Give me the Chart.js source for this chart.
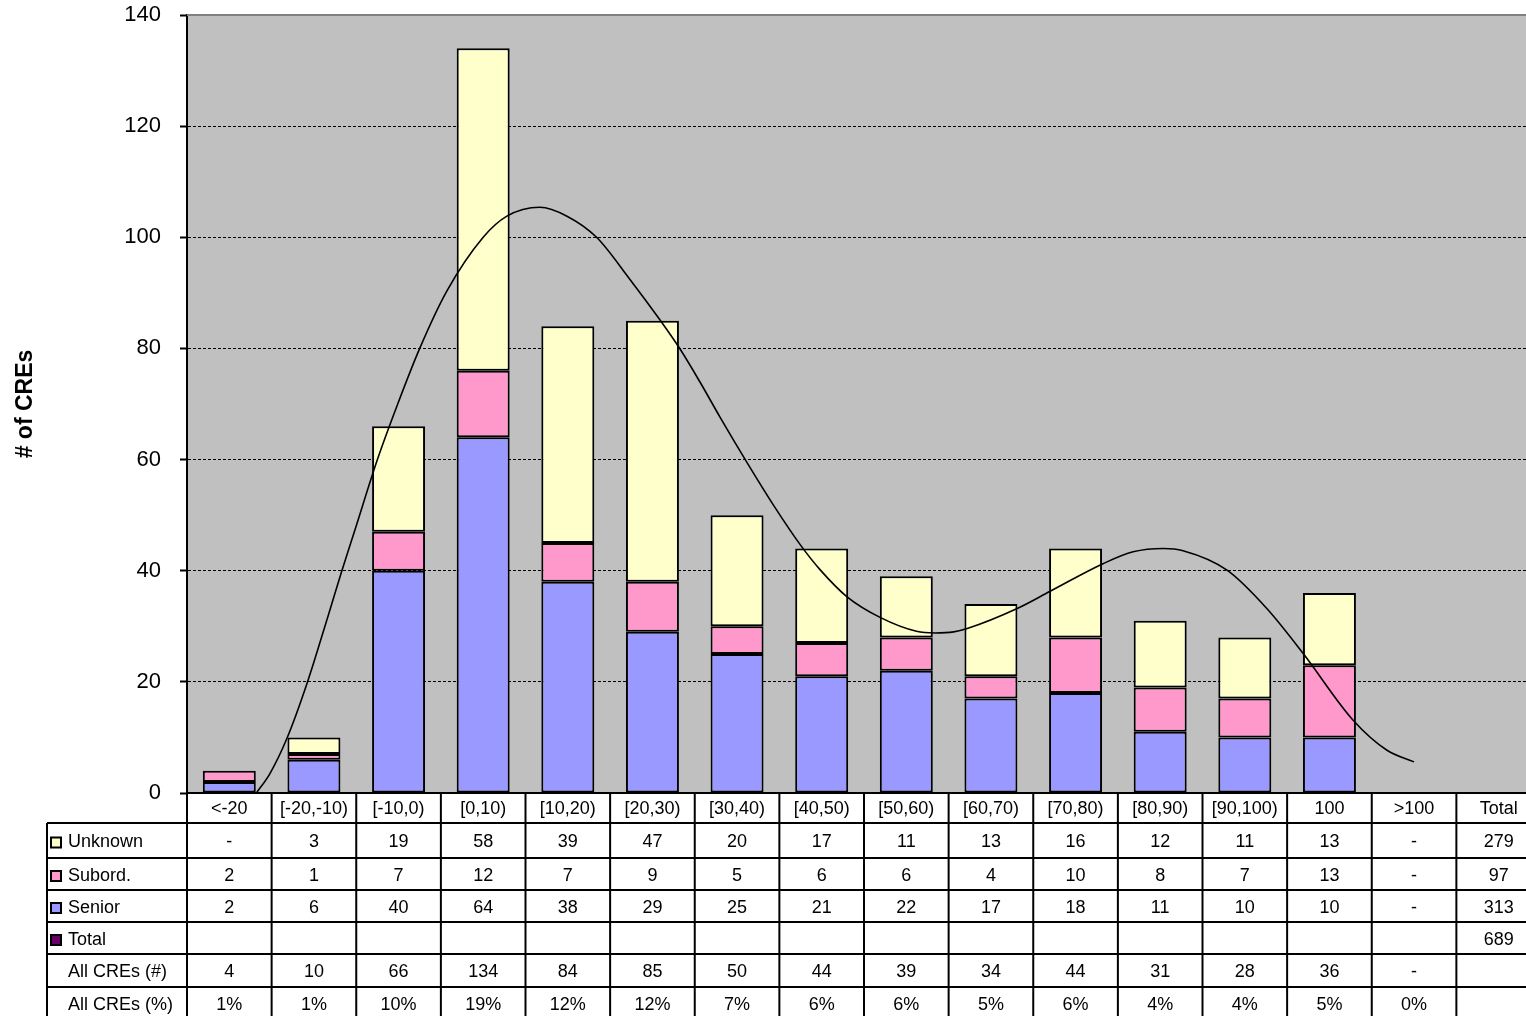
<!DOCTYPE html>
<html>
<head>
<meta charset="utf-8">
<script src="https://cdn.jsdelivr.net/npm/chart.js@4.4.1/dist/chart.umd.min.js"></script>
<style>
  html, body { margin: 0; padding: 0; background: #fff; overflow: hidden; }
  #creChart { position: absolute; left: 0; top: 0; }
</style>
</head>
<body>
<canvas id="creChart" width="1545" height="1030"></canvas>
<script>
// categories (last one is the "Total" column of the data table)
const categories = ['<-20', '[-20,-10)', '[-10,0)', '[0,10)', '[10,20)', '[20,30)', '[30,40)',
  '[40,50)', '[50,60)', '[60,70)', '[70,80)', '[80,90)', '[90,100)', '100', '>100', 'Total'];

// stacked series (null = "-" / empty)
const senior  = [2, 6, 40, 64, 38, 29, 25, 21, 22, 17, 18, 11, 10, 10, null, null];
const subord  = [2, 1, 7, 12, 7, 9, 5, 6, 6, 4, 10, 8, 7, 13, null, null];
const unknown = [null, 3, 19, 58, 39, 47, 20, 17, 11, 13, 16, 12, 11, 13, null, null];

// totals column of the table: Unknown, Subord., Senior, Total
const totalsCol = [279, 97, 313, 689];

// bottom rows of the table
const allCount = [4, 10, 66, 134, 84, 85, 50, 44, 39, 34, 44, 31, 28, 36, null];
const allPct = ['1%', '1%', '10%', '19%', '12%', '12%', '7%', '6%', '6%', '5%', '6%', '4%', '4%', '5%', '0%'];

// trend curve (x in category units, 0 = '<-20')
const trendX = [0.32, 0.48, 0.68, 0.92, 1.17, 1.33, 1.49, 1.75, 1.99, 2.25, 2.57, 3.0, 3.28, 3.67,
  3.99, 4.34, 4.73, 5.09, 5.33, 5.56, 5.8, 6.12, 6.43, 6.75, 6.98, 7.3, 7.69, 8.12, 8.34, 8.56,
  8.72, 9.31, 9.7, 10.33, 10.68, 11.04, 11.27, 11.79, 12.26, 12.69, 13.28, 13.68, 14.0];
const trendY = [0, 3.5, 9.8, 19.8, 32, 40, 47.6, 60, 70, 80, 90.3, 100, 103.8, 105.4,
  103.8, 100, 92.5, 85.1, 79.8, 74.0, 67.6, 59.4, 51.8, 44.6, 40.2, 35.3, 31.6, 29.1, 28.8, 29.0,
  29.6, 33.2, 36.3, 41.3, 43.4, 44.0, 43.6, 40.1, 33.2, 25.1, 13.1, 7.7, 5.6];

const yMin = 0, yMax = 140, yStep = 20;

const colors = {
  senior: '#9999FF',
  subord: '#FF99CC',
  unknown: '#FFFFCC',
  total: '#660066',
  plot: '#C0C0C0'
};

Chart.defaults.font.family = '"Liberation Sans", Arial, sans-serif';
Chart.defaults.color = '#000';

const tableRows = [
  { label: 'Unknown', color: colors.unknown, values: unknown.slice(0, 15).map(v => v === null ? '-' : String(v)), total: totalsCol[0] },
  { label: 'Subord.', color: colors.subord, values: subord.slice(0, 15).map(v => v === null ? '-' : String(v)), total: totalsCol[1] },
  { label: 'Senior', color: colors.senior, values: senior.slice(0, 15).map(v => v === null ? '-' : String(v)), total: totalsCol[2] },
  { label: 'Total', color: colors.total, values: [], total: totalsCol[3] },
  { label: 'All CREs (#)', color: null, values: allCount.map(v => v === null ? '-' : String(v)), total: '' },
  { label: 'All CREs (%)', color: null, values: allPct, total: '' }
];
const rowHeights = [30, 35, 32, 32, 32, 33, 33]; // header + 6 rows

const tablePlugin = {
  id: 'dataTable',
  beforeDraw(chart) {
    const { ctx, chartArea: a } = chart;
    ctx.save();
    ctx.fillStyle = colors.plot;
    ctx.fillRect(a.left, a.top, a.right - a.left, a.bottom - a.top);
    ctx.restore();
  },
  afterDraw(chart) {
    const { ctx, chartArea: a } = chart;
    const colW = (a.right - a.left) / categories.length;
    const labelLeft = 47;
    ctx.save();

    // top border of the plot
    ctx.strokeStyle = '#808080';
    ctx.lineWidth = 2;
    ctx.beginPath();
    ctx.moveTo(a.left, a.top);
    ctx.lineTo(a.right, a.top);
    ctx.stroke();

    // row boundaries
    const ys = [a.bottom];
    rowHeights.forEach(h => ys.push(ys[ys.length - 1] + h));

    ctx.strokeStyle = '#000';
    ctx.lineWidth = 2;
    ctx.beginPath();
    for (let r = 1; r < ys.length; r++) {
      ctx.moveTo(labelLeft, ys[r]);
      ctx.lineTo(a.right, ys[r]);
    }
    ctx.moveTo(labelLeft, ys[1]);
    ctx.lineTo(labelLeft, ys[ys.length - 1]);
    for (let k = 0; k <= categories.length; k++) {
      const x = a.left + k * colW;
      ctx.moveTo(x, a.bottom);
      ctx.lineTo(x, ys[ys.length - 1]);
    }
    ctx.stroke();

    ctx.font = '18px "Liberation Sans", Arial, sans-serif';
    ctx.fillStyle = '#000';
    ctx.textBaseline = 'middle';
    ctx.textAlign = 'center';

    // header
    categories.forEach((c, i) => {
      ctx.fillText(c, a.left + (i + 0.5) * colW, (ys[0] + ys[1]) / 2 + 1);
    });

    // body
    tableRows.forEach((row, r) => {
      const top = ys[r + 1], bot = ys[r + 2];
      const cy = (top + bot) / 2 + 2;
      ctx.textAlign = 'center';
      row.values.forEach((v, i) => {
        ctx.fillText(v, a.left + (i + 0.5) * colW, cy);
      });
      if (row.total !== '') {
        ctx.fillText(String(row.total), a.left + 15.5 * colW, cy);
      }
      if (row.color) {
        ctx.fillStyle = row.color;
        ctx.fillRect(51, cy - 5, 10, 10);
        ctx.strokeStyle = '#000';
        ctx.lineWidth = 2;
        ctx.strokeRect(51, cy - 5, 10, 10);
        ctx.fillStyle = '#000';
      }
      ctx.textAlign = 'left';
      ctx.fillText(row.label, 68, cy);
    });
    ctx.restore();
  }
};

const barCommon = {
  borderColor: '#000',
  borderWidth: 2,
  borderSkipped: false,
  inflateAmount: 0,
  barPercentage: 0.626,
  categoryPercentage: 1,
  grouped: false,
  stack: 'cre',
  order: 1
};

const ctx = document.getElementById('creChart').getContext('2d');
new Chart(ctx, {
  type: 'bar',
  data: {
    labels: categories,
    datasets: [
      Object.assign({ label: 'Senior', data: senior, backgroundColor: colors.senior }, barCommon),
      Object.assign({ label: 'Subord.', data: subord, backgroundColor: colors.subord }, barCommon),
      Object.assign({ label: 'Unknown', data: unknown, backgroundColor: colors.unknown }, barCommon),
      {
        type: 'line',
        label: 'Trend',
        data: trendX.map((x, i) => ({ x: x, y: trendY[i] })),
        xAxisID: 'xl',
        yAxisID: 'y',
        borderColor: '#000',
        borderWidth: 1.6,
        pointRadius: 0,
        fill: false,
        cubicInterpolationMode: 'monotone',
        order: 0
      }
    ]
  },
  options: {
    responsive: false,
    animation: false,
    layout: {
      padding: { left: 0, top: 15, right: 4, bottom: 229 }
    },
    plugins: {
      legend: { display: false },
      tooltip: { enabled: false },
      title: { display: false }
    },
    scales: {
      x: {
        stacked: true,
        grid: { display: false },
        ticks: { display: false },
        border: { display: true, color: '#000', width: 2 }
      },
      xl: {
        type: 'linear',
        display: false,
        offset: false,
        grid: { offset: false },
        min: -0.5,
        max: categories.length - 0.5
      },
      y: {
        stacked: true,
        min: yMin,
        max: yMax,
        afterFit: function(scale) {
          scale.width = 187;
          scale.paddingTop = 0;
          scale.paddingBottom = 0;
        },
        ticks: {
          stepSize: yStep,
          padding: 19,
          font: { size: 22 }
        },
        grid: {
          color: function(c) {
            return (c.tick && (c.tick.value === yMin || c.tick.value === yMax)) ? 'rgba(0,0,0,0)' : '#000';
          },
          lineWidth: 1,
          tickColor: '#000',
          tickLength: 7,
          tickWidth: 2
        },
        border: { display: true, color: '#000', width: 2, dash: [3, 2] },
        title: {
          display: true,
          text: '# of CREs',
          font: { size: 23, weight: 'bold' },
          padding: { top: 12, bottom: 0 }
        }
      }
    }
  },
  plugins: [tablePlugin]
});
</script>
</body>
</html>
